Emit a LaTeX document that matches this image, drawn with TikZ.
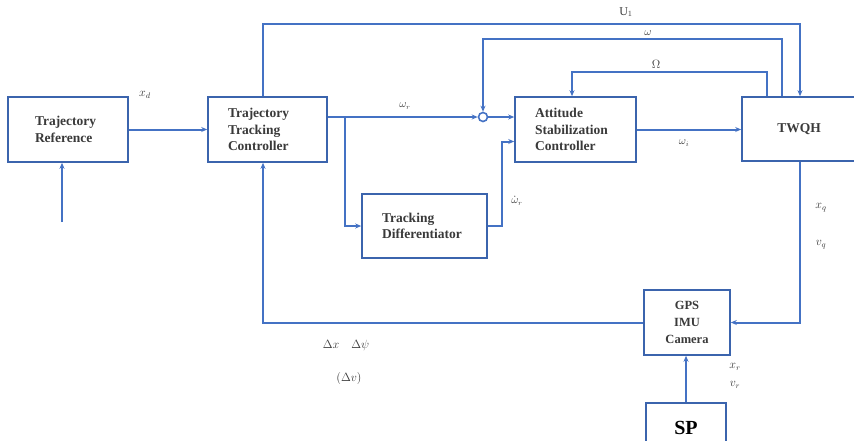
\documentclass[tikz,border=0pt]{standalone}
\usepackage{fontspec}
\setmainfont{Liberation Serif}
\usetikzlibrary{arrows.meta,positioning}
\definecolor{wireblue}{HTML}{4472C4}
\definecolor{boxblue}{HTML}{3B64AD}
\definecolor{labelgray}{HTML}{3A3A3A}
\tikzset{
  block/.style={draw=boxblue, line width=1.6pt, fill=white, text=labelgray,
    font=\fontsize{13.5}{16.5}\selectfont\bfseries, align=left,
    inner xsep=20pt, minimum height=65pt},
  wire/.style={draw=wireblue, line width=2pt},
  feed/.style={wire, -{Stealth[length=6pt,width=5pt]}},
  sig/.style={text=labelgray, font=\fontsize{12}{13}\selectfont},
  smallsig/.style={text=labelgray, font=\fontsize{10.5}{11}\selectfont},
}
\begin{document}
\begin{tikzpicture}[x=1pt,y=-1pt]
    \useasboundingbox (0,0) rectangle (854,440);

    % bloques
    \node[block, text width=66pt, inner xsep=27pt] (tref) at (68,129.5) {Trajectory\\Reference};
    \node[block, text width=79pt] (ttc) at (267.5,129.5) {Trajectory\\Tracking\\Controller};
    \node[block, text width=81pt] (asc) at (575.5,129.5) {Attitude\\Stabilization\\Controller};
    \node[block, text width=85pt, minimum height=64pt] (td) at (424.5,226) {Tracking\\Differentiator};
    \node[block, align=center, minimum width=114pt, inner xsep=0pt, minimum height=64pt] (twqh) at (799,129) {TWQH};
    \node[block, align=center, minimum width=86pt, inner xsep=0pt,
      font=\fontsize{12.5}{17}\selectfont\bfseries] (gps) at (687,322.5) {GPS\\IMU\\Camera};
    \node[block, align=center, minimum width=80pt, minimum height=50pt, inner xsep=0pt,
      font=\fontsize{20}{22}\selectfont\bfseries, text=black] (sp) at (686,428) {SP};
    \node[draw=wireblue, circle, line width=1.6pt, minimum size=9pt, inner sep=0pt] (sum) at (483,117) {};

    % puntos auxiliares
    \coordinate (refin) at (62,222);
    \coordinate (wr) at ([yshift=12.5pt]ttc.east);
    \coordinate (br) at (345,117);
    \coordinate (tdx) at (502,0);
    \coordinate (asclow) at ([yshift=-12pt]asc.west);
    \coordinate (ttcup) at ([xshift=-4.5pt]ttc.north);
    \coordinate (ttcdn) at ([xshift=-4.5pt]ttc.south);
    \coordinate (tqw) at ([xshift=-17pt]twqh.north);
    \coordinate (tqo) at ([xshift=-32pt]twqh.north);
    \coordinate (u1lvl) at (0,24);
    \coordinate (wlvl) at (0,39);
    \coordinate (olvl) at (0,72);

    % camino directo
    \draw[feed] (refin) -- (refin |- tref.south);
    \draw[feed] (tref.east) -- (ttc.west);
    \draw[feed] (wr) -- (sum.west);
    \draw[feed] (sum.east) -- (sum -| asc.west);
    \draw[feed] (br) |- (td.west);
    \draw[feed] (td.east) -| (tdx |- asclow) -- (asclow);
    \draw[feed] (asc.east) -- (asc.east -| twqh.west);

    % lazos superiores
    \draw[feed] (ttcup) -- (ttcup |- u1lvl) -| ([xshift=1pt]twqh.north);
    \draw[feed] (tqw) -- (tqw |- wlvl) -| (sum.north);
    \draw[feed] (tqo) -- (tqo |- olvl) -| ([xshift=-3.5pt]asc.north);

    % realimentacion
    \draw[feed] ([xshift=1pt]twqh.south) |- (gps.east);
    \draw[feed] (gps.west) -| (ttcdn);
    \draw[feed] (sp.north) -- (sp.north |- gps.south);

    % etiquetas
    \foreach \x/\y/\t [count=\i] in {
        145/95/{$x_d$},
        626/12/{$\mathrm{U}_1$},
        656/64/{$\Omega$},
        821/208/{$x_q$},
        821/245/{$v_q$},
        346/345/{$\Delta x\quad \Delta\psi$},
        349/378/{$(\Delta v)$},
        735/367/{$x_r$},
        735/385/{$v_r$}}{
      \node[sig] (lab\i) at (\x,\y) {\t};
    }
    \foreach \x/\y/\t [count=\i] in {
        648/33/{$\omega$},
        405/106/{$\omega_r$},
        517/201/{$\dot{\omega}_r$},
        684/143/{$\omega_i$}}{
      \node[smallsig] (sml\i) at (\x,\y) {\t};
    }
\end{tikzpicture}
\end{document}
